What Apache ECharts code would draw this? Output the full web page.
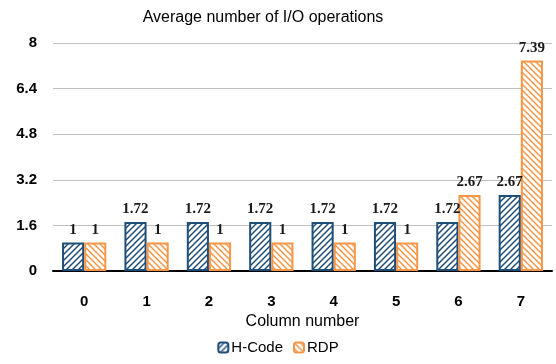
<!DOCTYPE html>
<html>
<head>
<meta charset="utf-8">
<script src="https://cdn.jsdelivr.net/npm/echarts@6/dist/echarts.min.js"></script>
<style>
  html, body { margin: 0; padding: 0; background: #fff; }
  #chart { width: 556px; height: 364px; }
</style>
</head>
<body>
<div id="chart"></div>
<script>
// Column indices and average I/O counts per scheme
const categories = ['0', '1', '2', '3', '4', '5', '6', '7'];
const hCode = [1, 1.72, 1.72, 1.72, 1.72, 1.72, 1.72, 2.67];
const rdp = [1, 1, 1, 1, 1, 1, 2.67, 7.39];
const yTicks = [0, 1.6, 3.2, 4.8, 6.4, 8];

// Diagonal hatch fill built on a small tile canvas
function hatch(color, forward) {
  const s = 6;
  const c = document.createElement('canvas');
  c.width = s; c.height = s;
  const g = c.getContext('2d');
  g.fillStyle = '#fff';
  g.fillRect(0, 0, s, s);
  g.strokeStyle = color;
  g.lineWidth = 1.5;
  g.beginPath();
  if (forward) {
    g.moveTo(-1, s + 1); g.lineTo(s + 1, -1);
    g.moveTo(-1, 1); g.lineTo(1, -1);
    g.moveTo(s - 1, s + 1); g.lineTo(s + 1, s - 1);
  } else {
    g.moveTo(-1, -1); g.lineTo(s + 1, s + 1);
    g.moveTo(s - 1, -1); g.lineTo(s + 1, 1);
    g.moveTo(-1, s - 1); g.lineTo(1, s + 1);
  }
  g.stroke();
  return { image: c, repeat: 'repeat' };
}

const blue = '#1F4E79';
const orange = '#F79646';

const labelStyle = {
  show: true,
  position: 'top',
  distance: 5,
  fontFamily: 'Liberation Serif',
  fontWeight: 'bold',
  fontSize: 15,
  color: '#1a1a1a'
};

const chart = echarts.init(document.getElementById('chart'));
chart.setOption({
  animation: false,
  title: {
    text: 'Average number of I/O operations',
    left: 258,
    textAlign: 'center',
    top: 5,
    textStyle: { fontFamily: 'Liberation Sans', fontSize: 16, fontWeight: 'normal', color: '#000' }
  },
  legend: {
    bottom: 4,
    left: 'center',
    itemWidth: 10,
    itemHeight: 10,
    itemGap: 10,
    textStyle: { fontFamily: 'Liberation Sans', fontSize: 15, color: '#000', padding: [0, 0, 0, -2] },
    data: ['H-Code', 'RDP']
  },
  grid: { left: 53, right: 4, top: 43, bottom: 93 },
  xAxis: {
    type: 'category',
    data: categories,
    name: 'Column number',
    nameLocation: 'middle',
    nameGap: 42,
    nameTextStyle: { fontFamily: 'Liberation Sans', fontSize: 16, color: '#000' },
    axisLine: { lineStyle: { color: '#000', width: 2 } },
    axisTick: { show: false },
    axisLabel: { margin: 23, fontFamily: 'Liberation Sans', fontWeight: 'bold', fontSize: 15, color: '#000' }
  },
  yAxis: {
    type: 'value',
    min: yTicks[0],
    max: yTicks[yTicks.length - 1],
    interval: yTicks[1] - yTicks[0],
    axisLine: { show: false },
    axisTick: { show: false },
    splitLine: { lineStyle: { color: '#C0C0C0', width: 1 } },
    axisLabel: {
      margin: 16,
      fontFamily: 'Liberation Sans',
      fontWeight: 'bold',
      fontSize: 15,
      color: '#000',
      formatter: v => String(Math.round(v * 10) / 10)
    }
  },
  series: [
    {
      name: 'H-Code',
      type: 'bar',
      data: hCode,
      barGap: '0%',
      barCategoryGap: '29%',
      itemStyle: { color: hatch(blue, true), borderColor: blue, borderWidth: 2 },
      label: labelStyle
    },
    {
      name: 'RDP',
      type: 'bar',
      data: rdp,
      itemStyle: { color: hatch(orange, false), borderColor: orange, borderWidth: 2 },
      label: labelStyle
    }
  ]
});
</script>
</body>
</html>
